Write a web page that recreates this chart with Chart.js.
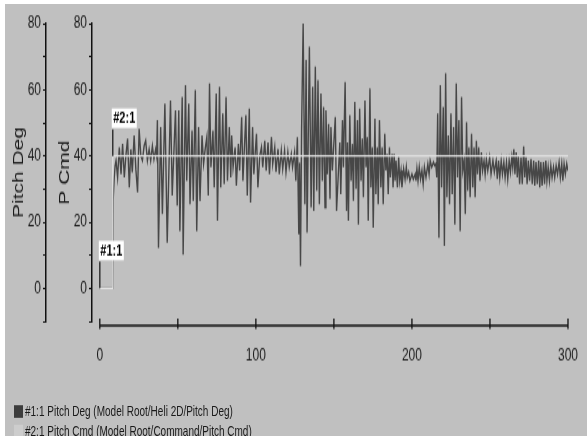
<!DOCTYPE html>
<html>
<head>
<meta charset="utf-8">
<script src="https://cdn.jsdelivr.net/npm/chart.js@4.4.0/dist/chart.umd.min.js"></script>
<style>
  html, body { margin: 0; padding: 0; background: #fff; overflow: hidden; }
  /* the source picture is stretched vertically, so draw flat and stretch */
  #wrap { position: absolute; left: 5px; top: 4px; width: 582px; height: 309px; background: #c0c0c0;
          transform: scaleY(1.398); transform-origin: 0 0; }
  #chart { display: block; }
  #legend { position: absolute; left: 9px; top: 285px; font: 10px 'Liberation Sans', Arial, sans-serif; color: #1a1a1a; }
  .row { height: 13.6px; display: flex; align-items: center; white-space: nowrap; }
  .box { width: 9px; height: 9.3px; margin-right: 2px; }
</style>
</head>
<body>
<div id="wrap">
  <canvas id="chart" width="582" height="309"></canvas>
  <div id="legend"></div>
</div>
<script>
// ticks
var xTicks = [0, 50, 100, 150, 200, 250, 300];
var yTicks = [-10, 0, 10, 20, 30, 40, 50, 60, 70, 80];

// #2:1 pitch command (step)
var pitchCmdX = [0, 8.3, 8.3, 300];
var pitchCmdY = [0, 0, 40, 40];

// #1:1 pitch response, read peak by peak
var pitchDegX = [
  0, 8.3, 8.6, 9.2, 9.8,
  10.4, 11.4, 12.5, 13.6, 14.6, 15.7, 16.7, 17.8, 18.9, 19.9, 20.8, 22.0, 23.1, 24.2, 25.2, 26.3, 27.3, 28.4, 29.4, 30.5,
  31.6, 32.6, 33.7, 34.7, 35.8, 36.4, 36.9, 37.6, 39.0, 40.1, 41.7, 43.2, 45.3, 46.4, 48.5, 49.6,
  50.6, 51.3, 52.8, 53.4, 54.9, 55.7, 57.0, 57.8, 59.1, 59.9, 61.2, 62.1, 63.3, 64.2, 65.5, 66.5, 67.5, 68.6, 69.5, 70.3,
  71.2, 72.5, 73.3, 74.6, 75.4, 76.7, 77.5, 78.8, 79.7, 80.9, 81.8, 83.0, 83.9, 84.5, 85.4, 86.7, 87.5, 88.8, 89.6, 90.9,
  91.7, 93.6, 94.5, 95.8, 96.6, 97.9, 98.7, 100.4, 101.3,
  102.5, 103.6, 104.4, 105.7, 106.6, 107.8, 108.7, 110.0, 110.8, 112.1, 112.9, 114.2, 115.0, 116.3, 117.2, 118.4, 119.3,
  120.5, 121.4, 122.7, 123.5, 124.8, 125.6, 126.6, 127.5, 128.0, 128.6, 129.3, 130.3, 131.4, 132.2, 132.8, 134.3, 135.4,
  136.4, 137.1, 138.1, 139.0, 139.8, 140.7, 141.7, 142.6, 143.4, 144.3, 144.9, 145.8, 146.6, 147.5, 148.1, 149.0, 150.9, 151.7,
  153.8, 154.4, 155.5, 156.1, 157.2, 158.1, 158.7, 159.3, 160.2, 161.0, 161.9, 162.5, 163.4, 164.2, 165.1, 165.7, 166.5, 167.4,
  168.2, 168.9, 169.9, 170.6, 171.4, 172.0, 173.1, 173.7, 174.6, 175.2, 176.3, 176.9, 177.8, 178.4, 179.2, 180.1, 180.9, 181.6,
  182.6, 183.3, 184.1, 184.8, 185.6, 186.2, 187.3, 187.9, 188.6, 189.2, 189.8, 190.7, 191.5, 192.2, 193.0, 193.6, 194.7, 195.6,
  196.4, 197.0, 197.9, 198.7, 200.0, 200.9, 202.1, 202.6,
  203.2, 203.9, 204.7, 205.5, 206.4, 207.2, 208.0, 209.0, 210.2, 211.0, 211.7, 212.7, 213.8, 214.6, 215.3, 215.9,
  216.5, 217.3, 218.2, 219.0, 220.1, 220.8, 221.6, 222.4, 223.3, 224.1, 225.0, 225.8, 226.7, 227.5, 228.4, 229.2, 230.1, 230.9,
  231.8, 232.6, 233.5, 234.2, 235.0, 235.7, 236.5, 237.3, 238.2, 239.0, 239.8, 240.5, 241.3, 242.0, 242.8, 243.6, 244.5, 245.3,
  246.2, 246.9, 247.7, 248.6, 249.8, 250.7, 251.9, 252.8,
  254.0, 254.7, 255.5, 256.3, 257.2, 258.0, 258.9, 259.7, 260.6, 261.4, 262.3, 263.1, 264.0, 264.6, 265.3, 266.0, 266.8, 267.5,
  268.2, 269.0, 269.9, 270.7, 271.6, 272.3, 273.1, 273.8, 274.6, 275.4, 276.3, 277.1, 278.0, 278.7, 279.5, 280.3, 281.2, 281.9,
  282.6, 283.4, 284.3, 285.0, 285.8, 286.5, 287.3, 288.1, 289.0, 289.8, 290.7, 291.5, 292.4, 293.3, 294.3, 295.1, 296.0, 296.7,
  297.5, 298.3, 299.2, 300.0
];
var pitchDegY = [
  0, 0, 27, 33, 37,
  38.6, 33.5, 42.6, 34.5, 43.6, 33.5, 40, 45.2, 30.5, 42, 35, 46.2, 36, 29.0, 48.2, 40, 38.6, 43, 44.6, 38.6,
  42, 38.6, 43, 39, 42, 40, 50.8, 12.2, 48.7, 22.4, 55.8, 13.8, 56.8, 28, 53.8, 25,
  53.8, 17.3, 57.8, 10.2, 61.4, 32.5, 55.8, 25.4, 47.7, 26.4, 59.9, 17.3, 48.7, 26.4, 46.2, 37.6, 42, 45.7, 28, 61.9,
  36.6, 47.7, 30.5, 58.9, 20.4, 60.9, 30.5, 52.8, 31.5, 57.8, 32.5, 48.7, 33.5, 46.2, 36.6, 42.6, 31, 43.6, 35.6, 51.8,
  32.5, 52.3, 28, 54.3, 25.9, 48.7, 34.5, 46.7, 30.5,
  40, 42.6, 36.6, 44.6, 35.6, 44.1, 34.5, 45.7, 37.6, 42.6, 35.1, 42.1, 34.5, 41.6, 36.1, 41.6, 35.1,
  41.1, 36.6, 40.6, 36.6, 41.1, 32.5, 45.7, 16.3, 38, 6.7, 48, 80.1, 25.4, 69.0, 16.8, 73.0, 24.4,
  60.9, 23.4, 67.0, 29.5, 62.9, 25.4, 58.9, 32.5, 54.8, 24.4, 53.8, 34.5, 49.7, 27, 48.7, 35.6, 51.8, 23.4,
  44.1, 28.5, 50.8, 36.6, 62.4, 23.4, 44.1, 20.4, 52.3, 32.5, 43.6, 26.4, 56.3, 30.0, 50.8, 19.3, 54.3, 32.5,
  45.2, 27.5, 56.8, 36.6, 45.7, 20.4, 60.4, 30.5, 42.6, 18.3, 51.3, 28.5, 42.6, 25.4, 50.8, 30.5, 42.6, 25.4,
  46.7, 35.6, 40.6, 28.5, 42.6, 33.5, 40.6, 30.5, 40.6, 32.5, 38.6, 30.5, 39.6, 32.5, 35.6, 30.5, 36.1, 33.0,
  36.6, 33.5, 35.1, 32.5, 34.5, 33.0, 34.5, 32.5,
  36.1, 32.5, 36.6, 33.0, 35.6, 31.5, 36.6, 33.5, 37.6, 34.5, 38.6, 36.6, 38.1, 37.1, 37.6, 33.5,
  52.8, 15.3, 61.4, 30.5, 54.8, 12.8, 65.0, 27.5, 46.2, 25.4, 52.8, 28.5, 48.7, 19.3, 61.9, 33.5, 50.8, 17.3,
  57.8, 35.6, 38.6, 22.4, 50.2, 29.5, 42.6, 27.5, 46.7, 30.5, 42.6, 27.5, 44.6, 34.5, 42.6, 32.5, 41.1, 35.6,
  38.6, 34.5, 39.1, 35.6, 39.6, 34.5, 38.6, 35.1,
  38.6, 33.0, 38.6, 33.5, 38.6, 34.5, 38.1, 33.5, 38.1, 33.0, 38.6, 35.1, 39.6, 36.6, 42.1, 34.5, 41.1, 33.5,
  40.1, 31.5, 39.6, 31.5, 42.9, 33.5, 39.6, 31.5, 38.6, 32.5, 39.1, 31.5, 38.6, 31.0, 38.1, 31.5, 38.6, 30.5,
  38.1, 31.0, 38.1, 31.5, 38.6, 32.5, 36.6, 32.5, 37.1, 33.5, 36.6, 33.5, 37.1, 34.5, 38.1, 33.5, 37.6, 32.5,
  37.6, 34.5, 37.6, 35.5
];

var seriesNames = [
  '#1:1 Pitch Deg (Model Root/Heli 2D/Pitch Deg)',
  '#2:1 Pitch Cmd (Model Root/Command/Pitch Cmd)'
];

// cursor markers
var markerText = ['#1:1', '#2:1'];
var markerX = [0, 8.3];
var markerY = [0, 40];

var axisColor = '#111';
var sans = "'Liberation Sans', Arial, sans-serif";

function toPoints(xs, ys) {
  return xs.map(function (x, i) { return {x: x, y: ys[i]}; });
}

// x axis drawn a little below the plot, ticks crossing it
var xAxisLine = {
  id: 'xAxisLine',
  afterDraw: function (chart) {
    var ctx = chart.ctx;
    var xs = chart.scales.x;
    var y = chart.chartArea.bottom + 3;
    ctx.save();
    ctx.strokeStyle = axisColor;
    ctx.lineWidth = 1.3;
    ctx.beginPath();
    ctx.moveTo(xs.getPixelForValue(xTicks[0]), y);
    ctx.lineTo(xs.getPixelForValue(xTicks[xTicks.length - 1]), y);
    xTicks.forEach(function (v) {
      var px = xs.getPixelForValue(v);
      ctx.moveTo(px, y - 5);
      ctx.lineTo(px, y + 2.5);
    });
    ctx.stroke();
    ctx.restore();
  }
};

var markers = {
  id: 'markers',
  afterDatasetsDraw: function (chart) {
    var ctx = chart.ctx;
    var xs = chart.scales.x;
    var ys = chart.scales.y2;
    ctx.save();
    ctx.font = 'bold 11px ' + sans;
    markerText.forEach(function (t, i) {
      var px = xs.getPixelForValue(markerX[i]);
      var py = ys.getPixelForValue(markerY[i]);
      ctx.strokeStyle = '#333';
      ctx.lineWidth = 1.5;
      ctx.beginPath();
      ctx.moveTo(px, py);
      ctx.lineTo(px, py - 19);
      ctx.stroke();
      var w = ctx.measureText(t).width + 3;
      ctx.fillStyle = '#fff';
      ctx.fillRect(px - 1, py - 34, w, 14);
      ctx.fillStyle = '#000';
      ctx.textBaseline = 'middle';
      ctx.fillText(t, px + 0.5, py - 26.5);
    });
    ctx.restore();
  }
};

function yAxis(title, weight, width, titlePad) {
  return {
    type: 'linear',
    position: 'left',
    weight: weight,
    min: -10,
    max: 80,
    afterBuildTicks: function (s) { s.ticks = yTicks.map(function (v) { return {value: v}; }); },
    afterFit: function (s) { s.width = width; },
    ticks: {
      autoSkip: false,
      padding: 2,
      color: '#1a1a1a',
      font: {family: sans, size: 12},
      callback: function (v) { return v % 20 === 0 ? v : ''; }
    },
    grid: {display: true, drawOnChartArea: false, tickLength: 3, color: axisColor, lineWidth: 1},
    border: {display: true, color: axisColor, width: 1.5},
    title: {
      display: true,
      text: title,
      color: '#1a1a1a',
      font: {family: sans, size: 15},
      padding: {top: titlePad, bottom: 0}
    }
  };
}

var chart = new Chart(document.getElementById('chart'), {
  type: 'line',
  data: {
    datasets: [{
      label: seriesNames[0],
      data: toPoints(pitchDegX, pitchDegY),
      yAxisID: 'y1',
      borderColor: '#474747',
      backgroundColor: '#3c3c3c',
      borderWidth: 1.4,
      pointRadius: 0,
      order: 2
    }, {
      label: seriesNames[1],
      data: toPoints(pitchCmdX, pitchCmdY),
      yAxisID: 'y2',
      borderColor: '#e2e2e2',
      backgroundColor: '#cdcdcd',
      borderWidth: 1.2,
      pointRadius: 0,
      order: 1
    }]
  },
  options: {
    responsive: false,
    animation: false,
    layout: {padding: {top: 14, right: 15, bottom: 52, left: 0}},
    plugins: {legend: {display: false}, tooltip: {enabled: false}},
    scales: {
      x: {
        type: 'linear',
        min: -5,
        max: 300,
        afterBuildTicks: function (s) { s.ticks = xTicks.map(function (v) { return {value: v}; }); },
        afterFit: function (s) { s.height = 30; },
        ticks: {
          autoSkip: false,
          maxRotation: 0,
          padding: 9,
          color: '#1a1a1a',
          font: {family: sans, size: 12},
          callback: function (v) { return v % 100 === 0 ? v : ''; }
        },
        grid: {display: false},
        border: {display: false}
      },
      y1: yAxis('Pitch Deg', 1, 41, 5),
      y2: yAxis('P Cmd', 0, 46, 10)
    }
  },
  plugins: [xAxisLine, markers]
});

// legend, one row per series
var legend = document.getElementById('legend');
chart.data.datasets.forEach(function (ds) {
  var row = document.createElement('div');
  row.className = 'row';
  var box = document.createElement('span');
  box.className = 'box';
  box.style.background = ds.backgroundColor;
  var txt = document.createElement('span');
  txt.textContent = ds.label;
  row.appendChild(box);
  row.appendChild(txt);
  legend.appendChild(row);
});
</script>
</body>
</html>
